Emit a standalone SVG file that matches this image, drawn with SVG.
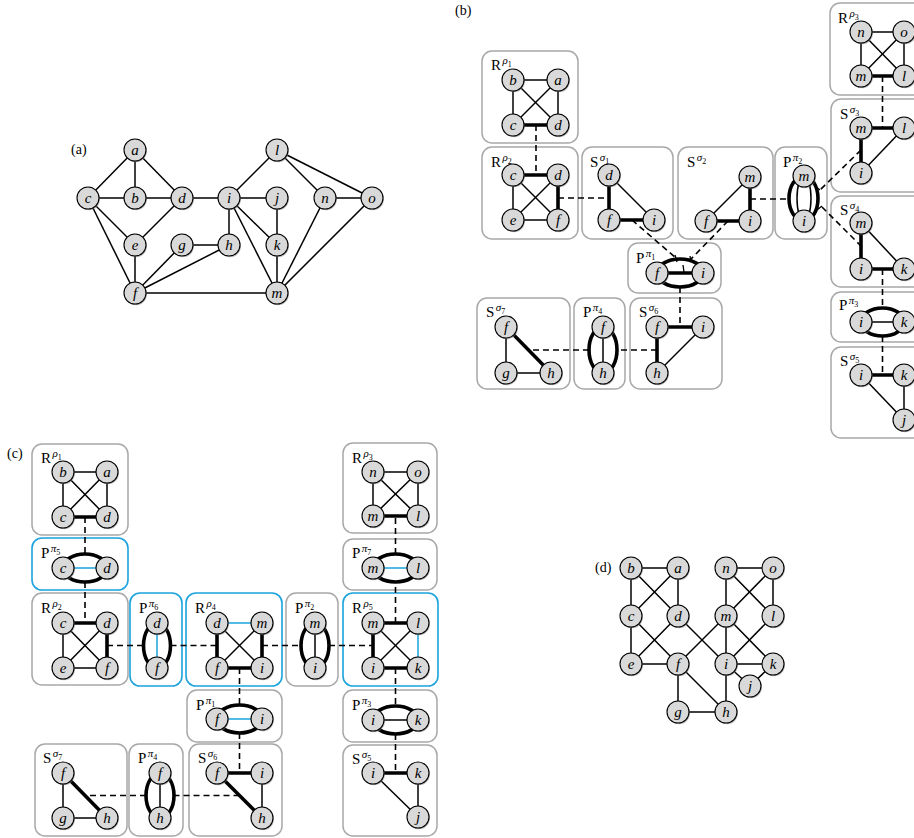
<svg xmlns="http://www.w3.org/2000/svg" xmlns:xlink="http://www.w3.org/1999/xlink" width="914" height="838" viewBox="0 0 914 838">
<style>
.e{stroke:#000;stroke-width:1.5;fill:none}
.t{stroke:#000;stroke-width:3.6;fill:none}
.bl{stroke:#1aa3dc;stroke-width:1.5;fill:none}
.dsh{stroke:#000;stroke-width:1.6;stroke-dasharray:6 4;fill:none}
.tk{stroke:#000;stroke-width:1.3}
.box{fill:#fff;stroke:#a8a8a8;stroke-width:1.5}
.bbox{fill:#fff;stroke:#1aa3dc;stroke-width:1.6}
.vl{font-family:"Liberation Serif",serif;font-style:italic;font-size:15px;text-anchor:middle}
.lab{font-family:"Liberation Serif",serif;font-size:15px}
.sup{font-style:italic;font-size:11px}
.sub{font-size:8px}
.pl{font-family:"Liberation Serif",serif;font-size:14px}
</style>
<defs>
<g id="v"><circle cx="1" cy="1.3" r="11" fill="#808080" opacity="0.55"/><circle r="11" fill="#d9d9d9" stroke="#000" stroke-width="1.1"/></g>
</defs>
<rect width="914" height="838" fill="#fff"/>

<!-- ===== (a) ===== -->
<text class="pl" x="71" y="154">(a)</text>
<g id="a-edges">
<line class="e" x1="135" y1="150" x2="88" y2="198"/>
<line class="e" x1="135" y1="150" x2="135" y2="198"/>
<line class="e" x1="135" y1="150" x2="182" y2="198"/>
<line class="e" x1="88" y1="198" x2="135" y2="198"/>
<line class="e" x1="135" y1="198" x2="182" y2="198"/>
<line class="e" x1="88" y1="198" x2="135" y2="245"/>
<line class="e" x1="88" y1="198" x2="135" y2="293"/>
<line class="e" x1="182" y1="198" x2="135" y2="245"/>
<line class="e" x1="182" y1="198" x2="229" y2="198"/>
<line class="e" x1="135" y1="245" x2="135" y2="293"/>
<line class="e" x1="182" y1="245" x2="229" y2="245"/>
<line class="e" x1="182" y1="245" x2="135" y2="293"/>
<line class="e" x1="229" y1="245" x2="135" y2="293"/>
<line class="e" x1="229" y1="198" x2="277" y2="150"/>
<line class="e" x1="229" y1="198" x2="277" y2="198"/>
<line class="e" x1="229" y1="198" x2="229" y2="245"/>
<line class="e" x1="229" y1="198" x2="277" y2="245"/>
<line class="e" x1="229" y1="198" x2="277" y2="293"/>
<line class="e" x1="277" y1="198" x2="277" y2="245"/>
<line class="e" x1="277" y1="245" x2="277" y2="293"/>
<line class="e" x1="277" y1="150" x2="325" y2="198"/>
<line class="e" x1="277" y1="150" x2="372" y2="198"/>
<line class="e" x1="325" y1="198" x2="372" y2="198"/>
<line class="e" x1="325" y1="198" x2="277" y2="293"/>
<line class="e" x1="372" y1="198" x2="277" y2="293"/>
<line class="e" x1="135" y1="293" x2="277" y2="293"/>
</g>
<g id="a-a"><use href="#v" x="135" y="150"/><text class="vl" x="135" y="154.5">a</text></g>
<g id="a-b"><use href="#v" x="135" y="198"/><text class="vl" x="135" y="202.5">b</text></g>
<g id="a-c"><use href="#v" x="88" y="198"/><text class="vl" x="88" y="202.5">c</text></g>
<g id="a-d"><use href="#v" x="182" y="198"/><text class="vl" x="182" y="202.5">d</text></g>
<g id="a-e"><use href="#v" x="135" y="245"/><text class="vl" x="135" y="249.5">e</text></g>
<g id="a-f"><use href="#v" x="135" y="293"/><text class="vl" x="135" y="297.5">f</text></g>
<g id="a-g"><use href="#v" x="182" y="245"/><text class="vl" x="182" y="249.5">g</text></g>
<g id="a-h"><use href="#v" x="229" y="245"/><text class="vl" x="229" y="249.5">h</text></g>
<g id="a-i"><use href="#v" x="229" y="198"/><text class="vl" x="229" y="202.5">i</text></g>
<g id="a-j"><use href="#v" x="277" y="198"/><text class="vl" x="277" y="202.5">j</text></g>
<g id="a-k"><use href="#v" x="277" y="245"/><text class="vl" x="277" y="249.5">k</text></g>
<g id="a-l"><use href="#v" x="277" y="150"/><text class="vl" x="277" y="154.5">l</text></g>
<g id="a-m"><use href="#v" x="277" y="293"/><text class="vl" x="277" y="297.5">m</text></g>
<g id="a-n"><use href="#v" x="325" y="198"/><text class="vl" x="325" y="202.5">n</text></g>
<g id="a-o"><use href="#v" x="372" y="198"/><text class="vl" x="372" y="202.5">o</text></g>

<!-- ===== (b) ===== -->
<text class="pl" x="455" y="15">(b)</text>
<g id="b-R1">
<rect class="box" x="482" y="51" width="96" height="92" rx="10"/>
<text class="lab" x="491" y="70">R<tspan class="sup" dx="1.5" dy="-6">ρ</tspan><tspan class="sub" dy="2.5">1</tspan></text>
<line class="e" x1="513" y1="80" x2="558" y2="80"/><line class="e" x1="513" y1="80" x2="513" y2="125"/><line class="e" x1="558" y1="80" x2="558" y2="125"/><line class="e" x1="513" y1="80" x2="558" y2="125"/><line class="e" x1="558" y1="80" x2="513" y2="125"/>
<line class="t" x1="513" y1="125" x2="558" y2="125"/>
<use href="#v" x="513" y="80"/><text class="vl" x="513" y="84.5">b</text>
<use href="#v" x="558" y="80"/><text class="vl" x="558" y="84.5">a</text>
<use href="#v" x="513" y="125"/><text class="vl" x="513" y="129.5">c</text>
<use href="#v" x="558" y="125"/><text class="vl" x="558" y="129.5">d</text>
</g>
<g id="b-R2">
<rect class="box" x="482" y="147" width="96" height="92" rx="10"/>
<text class="lab" x="491" y="167">R<tspan class="sup" dx="1.5" dy="-6">ρ</tspan><tspan class="sub" dy="2.5">2</tspan></text>
<line class="e" x1="513" y1="175" x2="513" y2="220"/><line class="e" x1="513" y1="220" x2="558" y2="220"/><line class="e" x1="513" y1="175" x2="558" y2="220"/><line class="e" x1="558" y1="175" x2="513" y2="220"/>
<line class="t" x1="513" y1="175" x2="558" y2="175"/><line class="t" x1="558" y1="175" x2="558" y2="220"/>
<use href="#v" x="513" y="175"/><text class="vl" x="513" y="179.5">c</text>
<use href="#v" x="558" y="175"/><text class="vl" x="558" y="179.5">d</text>
<use href="#v" x="513" y="220"/><text class="vl" x="513" y="224.5">e</text>
<use href="#v" x="558" y="220"/><text class="vl" x="558" y="224.5">f</text>
</g>
<g id="b-S1">
<rect class="box" x="582" y="147" width="91" height="92" rx="10"/>
<text class="lab" x="590" y="167">S<tspan class="sup" dx="1.5" dy="-6">σ</tspan><tspan class="sub" dy="2.5">1</tspan></text>
<line class="e" x1="609" y1="175" x2="654" y2="220"/>
<line class="t" x1="609" y1="175" x2="609" y2="220"/><line class="t" x1="609" y1="220" x2="654" y2="220"/>
<use href="#v" x="609" y="175"/><text class="vl" x="609" y="179.5">d</text>
<use href="#v" x="609" y="220"/><text class="vl" x="609" y="224.5">f</text>
<use href="#v" x="654" y="220"/><text class="vl" x="654" y="224.5">i</text>
</g>
<g id="b-S2">
<rect class="box" x="678" y="147" width="95" height="92" rx="10"/>
<text class="lab" x="687" y="167">S<tspan class="sup" dx="1.5" dy="-6">σ</tspan><tspan class="sub" dy="2.5">2</tspan></text>
<line class="e" x1="706" y1="221" x2="750" y2="177"/>
<line class="t" x1="706" y1="221" x2="750" y2="221"/><line class="t" x1="750" y1="177" x2="750" y2="221"/>
<use href="#v" x="750" y="177"/><text class="vl" x="750" y="181.5">m</text>
<use href="#v" x="706" y="221"/><text class="vl" x="706" y="225.5">f</text>
<use href="#v" x="750" y="221"/><text class="vl" x="750" y="225.5">i</text>
</g>
<g id="b-P2">
<rect class="box" x="775" y="147" width="52" height="92" rx="10"/>
<text class="lab" x="783" y="167">P<tspan class="sup" dx="1.5" dy="-6">π</tspan><tspan class="sub" dy="2.5">2</tspan></text>
<path class="t" d="M804,176 A15 22.5 0 0 0 804,221"/>
<path class="e" d="M804,176 A7 22.5 0 0 0 804,221"/>
<path class="e" d="M804,176 A7 22.5 0 0 1 804,221"/>
<path class="t" d="M804,176 A14 22.5 0 0 1 804,221"/>
<line class="tk" x1="815" y1="186" x2="820" y2="190"/>
<line class="tk" x1="817" y1="210" x2="822" y2="206"/>
<use href="#v" x="804" y="176"/><text class="vl" x="804" y="180.5">m</text>
<use href="#v" x="804" y="221"/><text class="vl" x="804" y="225.5">i</text>
</g>
<g id="b-R3">
<rect class="box" x="830" y="3" width="100" height="92" rx="10"/>
<text class="lab" x="838" y="23">R<tspan class="sup" dx="1.5" dy="-6">ρ</tspan><tspan class="sub" dy="2.5">3</tspan></text>
<line class="e" x1="861" y1="32" x2="904" y2="32"/><line class="e" x1="861" y1="32" x2="861" y2="76"/><line class="e" x1="904" y1="32" x2="904" y2="76"/><line class="e" x1="861" y1="32" x2="904" y2="76"/><line class="e" x1="904" y1="32" x2="861" y2="76"/>
<line class="t" x1="861" y1="76" x2="904" y2="76"/>
<use href="#v" x="861" y="32"/><text class="vl" x="861" y="36.5">n</text>
<use href="#v" x="904" y="32"/><text class="vl" x="904" y="36.5">o</text>
<use href="#v" x="861" y="76"/><text class="vl" x="861" y="80.5">m</text>
<use href="#v" x="904" y="76"/><text class="vl" x="904" y="80.5">l</text>
</g>
<g id="b-S3">
<rect class="box" x="831" y="99" width="100" height="93" rx="10"/>
<text class="lab" x="840" y="119">S<tspan class="sup" dx="1.5" dy="-6">σ</tspan><tspan class="sub" dy="2.5">3</tspan></text>
<line class="e" x1="904" y1="128" x2="861" y2="173"/>
<line class="t" x1="861" y1="128" x2="904" y2="128"/><line class="t" x1="861" y1="128" x2="861" y2="173"/>
<use href="#v" x="861" y="128"/><text class="vl" x="861" y="132.5">m</text>
<use href="#v" x="904" y="128"/><text class="vl" x="904" y="132.5">l</text>
<use href="#v" x="861" y="173"/><text class="vl" x="861" y="177.5">i</text>
</g>
<g id="b-S4">
<rect class="box" x="831" y="196" width="100" height="91" rx="10"/>
<text class="lab" x="840" y="215">S<tspan class="sup" dx="1.5" dy="-6">σ</tspan><tspan class="sub" dy="2.5">4</tspan></text>
<line class="e" x1="861" y1="223" x2="904" y2="269"/>
<line class="t" x1="861" y1="223" x2="861" y2="269"/><line class="t" x1="861" y1="269" x2="904" y2="269"/>
<use href="#v" x="861" y="223"/><text class="vl" x="861" y="227.5">m</text>
<use href="#v" x="861" y="269"/><text class="vl" x="861" y="273.5">i</text>
<use href="#v" x="904" y="269"/><text class="vl" x="904" y="273.5">k</text>
</g>
<g id="b-P3">
<rect class="box" x="831" y="292" width="100" height="50" rx="10"/>
<text class="lab" x="839" y="310">P<tspan class="sup" dx="1.5" dy="-6">π</tspan><tspan class="sub" dy="2.5">3</tspan></text>
<line class="e" x1="861" y1="322" x2="904" y2="322"/>
<ellipse class="t" cx="882.5" cy="322" rx="21.5" ry="14"/>
<use href="#v" x="861" y="322"/><text class="vl" x="861" y="326.5">i</text>
<use href="#v" x="904" y="322"/><text class="vl" x="904" y="326.5">k</text>
</g>
<g id="b-S5">
<rect class="box" x="831" y="347" width="100" height="91" rx="10"/>
<text class="lab" x="840" y="366">S<tspan class="sup" dx="1.5" dy="-6">σ</tspan><tspan class="sub" dy="2.5">5</tspan></text>
<line class="e" x1="904" y1="375" x2="904" y2="420"/><line class="e" x1="861" y1="375" x2="904" y2="420"/>
<line class="t" x1="861" y1="375" x2="904" y2="375"/>
<use href="#v" x="861" y="375"/><text class="vl" x="861" y="379.5">i</text>
<use href="#v" x="904" y="375"/><text class="vl" x="904" y="379.5">k</text>
<use href="#v" x="904" y="420"/><text class="vl" x="904" y="424.5">j</text>
</g>
<g id="b-P1">
<rect class="box" x="628" y="243" width="93" height="50" rx="10"/>
<text class="lab" x="636" y="263">P<tspan class="sup" dx="1.5" dy="-6">π</tspan><tspan class="sub" dy="2.5">1</tspan></text>
<line class="t" x1="657" y1="273" x2="703" y2="273"/>
<ellipse class="t" cx="680" cy="273" rx="23" ry="14"/>
<line class="tk" x1="675" y1="255" x2="677" y2="262"/>
<line class="tk" x1="690" y1="256" x2="691" y2="262"/>
<line class="tk" x1="683" y1="265" x2="684" y2="272"/>
<use href="#v" x="657" y="273"/><text class="vl" x="657" y="277.5">f</text>
<use href="#v" x="703" y="273"/><text class="vl" x="703" y="277.5">i</text>
</g>
<g id="b-S6">
<rect class="box" x="630" y="298" width="92" height="91" rx="10"/>
<text class="lab" x="639" y="317">S<tspan class="sup" dx="1.5" dy="-6">σ</tspan><tspan class="sub" dy="2.5">6</tspan></text>
<line class="e" x1="657" y1="373" x2="703" y2="327"/>
<line class="t" x1="657" y1="327" x2="703" y2="327"/><line class="t" x1="657" y1="327" x2="657" y2="373"/>
<use href="#v" x="657" y="327"/><text class="vl" x="657" y="331.5">f</text>
<use href="#v" x="703" y="327"/><text class="vl" x="703" y="331.5">i</text>
<use href="#v" x="657" y="373"/><text class="vl" x="657" y="377.5">h</text>
</g>
<g id="b-P4">
<rect class="box" x="574" y="298" width="51" height="91" rx="10"/>
<text class="lab" x="583" y="317">P<tspan class="sup" dx="1.5" dy="-6">π</tspan><tspan class="sub" dy="2.5">4</tspan></text>
<line class="e" x1="603" y1="327" x2="603" y2="373"/>
<ellipse class="t" cx="603" cy="350" rx="14" ry="23"/>
<use href="#v" x="603" y="327"/><text class="vl" x="603" y="331.5">f</text>
<use href="#v" x="603" y="373"/><text class="vl" x="603" y="377.5">h</text>
</g>
<g id="b-S7">
<rect class="box" x="477" y="298" width="93" height="91" rx="10"/>
<text class="lab" x="486" y="317">S<tspan class="sup" dx="1.5" dy="-6">σ</tspan><tspan class="sub" dy="2.5">7</tspan></text>
<line class="e" x1="506" y1="327" x2="506" y2="373"/><line class="e" x1="506" y1="373" x2="551" y2="373"/>
<line class="t" x1="506" y1="327" x2="551" y2="373"/>
<use href="#v" x="506" y="327"/><text class="vl" x="506" y="331.5">f</text>
<use href="#v" x="506" y="373"/><text class="vl" x="506" y="377.5">g</text>
<use href="#v" x="551" y="373"/><text class="vl" x="551" y="377.5">h</text>
</g>

<!-- ===== (c) ===== -->
<text class="pl" x="7" y="458">(c)</text>
<g id="c-R1">
<rect class="box" x="32" y="444" width="96" height="91" rx="10"/>
<text class="lab" x="41" y="463">R<tspan class="sup" dx="1.5" dy="-6">ρ</tspan><tspan class="sub" dy="2.5">1</tspan></text>
<line class="e" x1="63" y1="472" x2="107" y2="472"/><line class="e" x1="63" y1="472" x2="63" y2="517"/><line class="e" x1="107" y1="472" x2="107" y2="517"/><line class="e" x1="63" y1="472" x2="107" y2="517"/><line class="e" x1="107" y1="472" x2="63" y2="517"/>
<line class="t" x1="63" y1="517" x2="107" y2="517"/>
<use href="#v" x="63" y="472"/><text class="vl" x="63" y="476.5">b</text>
<use href="#v" x="107" y="472"/><text class="vl" x="107" y="476.5">a</text>
<use href="#v" x="63" y="517"/><text class="vl" x="63" y="521.5">c</text>
<use href="#v" x="107" y="517"/><text class="vl" x="107" y="521.5">d</text>
</g>
<g id="c-P5">
<rect class="bbox" x="32" y="538" width="96" height="52" rx="10"/>
<text class="lab" x="41" y="558">P<tspan class="sup" dx="1.5" dy="-6">π</tspan><tspan class="sub" dy="2.5">5</tspan></text>
<line class="bl" x1="63" y1="568" x2="107" y2="568"/>
<ellipse class="t" cx="85" cy="568" rx="22" ry="14"/>
<use href="#v" x="63" y="568"/><text class="vl" x="63" y="572.5">c</text>
<use href="#v" x="107" y="568"/><text class="vl" x="107" y="572.5">d</text>
</g>
<g id="c-R2">
<rect class="box" x="32" y="593" width="96" height="92" rx="10"/>
<text class="lab" x="41" y="613">R<tspan class="sup" dx="1.5" dy="-6">ρ</tspan><tspan class="sub" dy="2.5">2</tspan></text>
<line class="e" x1="63" y1="623" x2="63" y2="668"/><line class="e" x1="63" y1="668" x2="107" y2="668"/><line class="e" x1="63" y1="623" x2="107" y2="668"/><line class="e" x1="107" y1="623" x2="63" y2="668"/>
<line class="t" x1="63" y1="623" x2="107" y2="623"/><line class="t" x1="107" y1="623" x2="107" y2="668"/>
<use href="#v" x="63" y="623"/><text class="vl" x="63" y="627.5">c</text>
<use href="#v" x="107" y="623"/><text class="vl" x="107" y="627.5">d</text>
<use href="#v" x="63" y="668"/><text class="vl" x="63" y="672.5">e</text>
<use href="#v" x="107" y="668"/><text class="vl" x="107" y="672.5">f</text>
</g>
<g id="c-P6">
<rect class="bbox" x="130" y="593" width="52" height="93" rx="10"/>
<text class="lab" x="139" y="613">P<tspan class="sup" dx="1.5" dy="-6">π</tspan><tspan class="sub" dy="2.5">6</tspan></text>
<line class="bl" x1="157" y1="623" x2="157" y2="668"/>
<ellipse class="t" cx="157" cy="645.5" rx="13.5" ry="22.5"/>
<use href="#v" x="157" y="623"/><text class="vl" x="157" y="627.5">d</text>
<use href="#v" x="157" y="668"/><text class="vl" x="157" y="672.5">f</text>
</g>
<g id="c-R4">
<rect class="bbox" x="186" y="593" width="96" height="93" rx="10"/>
<text class="lab" x="195" y="613">R<tspan class="sup" dx="1.5" dy="-6">ρ</tspan><tspan class="sub" dy="2.5">4</tspan></text>
<line class="bl" x1="217" y1="623" x2="262" y2="623"/>
<line class="e" x1="217" y1="623" x2="262" y2="668"/><line class="e" x1="262" y1="623" x2="217" y2="668"/>
<line class="t" x1="217" y1="623" x2="217" y2="668"/><line class="t" x1="262" y1="623" x2="262" y2="668"/><line class="t" x1="217" y1="668" x2="262" y2="668"/>
<use href="#v" x="217" y="623"/><text class="vl" x="217" y="627.5">d</text>
<use href="#v" x="262" y="623"/><text class="vl" x="262" y="627.5">m</text>
<use href="#v" x="217" y="668"/><text class="vl" x="217" y="672.5">f</text>
<use href="#v" x="262" y="668"/><text class="vl" x="262" y="672.5">i</text>
</g>
<g id="c-P2">
<rect class="box" x="286" y="593" width="52" height="93" rx="10"/>
<text class="lab" x="295" y="613">P<tspan class="sup" dx="1.5" dy="-6">π</tspan><tspan class="sub" dy="2.5">2</tspan></text>
<line class="e" x1="315" y1="623" x2="315" y2="668"/>
<ellipse class="t" cx="315" cy="645.5" rx="14" ry="22.5"/>
<use href="#v" x="315" y="623"/><text class="vl" x="315" y="627.5">m</text>
<use href="#v" x="315" y="668"/><text class="vl" x="315" y="672.5">i</text>
</g>
<g id="c-R5">
<rect class="bbox" x="343" y="593" width="95" height="93" rx="10"/>
<text class="lab" x="352" y="613">R<tspan class="sup" dx="1.5" dy="-6">ρ</tspan><tspan class="sub" dy="2.5">5</tspan></text>
<line class="bl" x1="418" y1="623" x2="418" y2="668"/>
<line class="e" x1="373" y1="623" x2="418" y2="668"/><line class="e" x1="418" y1="623" x2="373" y2="668"/>
<line class="t" x1="373" y1="623" x2="418" y2="623"/><line class="t" x1="373" y1="623" x2="373" y2="668"/><line class="t" x1="373" y1="668" x2="418" y2="668"/>
<use href="#v" x="373" y="623"/><text class="vl" x="373" y="627.5">m</text>
<use href="#v" x="418" y="623"/><text class="vl" x="418" y="627.5">l</text>
<use href="#v" x="373" y="668"/><text class="vl" x="373" y="672.5">i</text>
<use href="#v" x="418" y="668"/><text class="vl" x="418" y="672.5">k</text>
</g>
<g id="c-R3">
<rect class="box" x="343" y="443" width="94" height="90" rx="10"/>
<text class="lab" x="352" y="463">R<tspan class="sup" dx="1.5" dy="-6">ρ</tspan><tspan class="sub" dy="2.5">3</tspan></text>
<line class="e" x1="373" y1="472" x2="418" y2="472"/><line class="e" x1="373" y1="472" x2="373" y2="516"/><line class="e" x1="418" y1="472" x2="418" y2="516"/><line class="e" x1="373" y1="472" x2="418" y2="516"/><line class="e" x1="418" y1="472" x2="373" y2="516"/>
<line class="t" x1="373" y1="516" x2="418" y2="516"/>
<use href="#v" x="373" y="472"/><text class="vl" x="373" y="476.5">n</text>
<use href="#v" x="418" y="472"/><text class="vl" x="418" y="476.5">o</text>
<use href="#v" x="373" y="516"/><text class="vl" x="373" y="520.5">m</text>
<use href="#v" x="418" y="516"/><text class="vl" x="418" y="520.5">l</text>
</g>
<g id="c-P7">
<rect class="box" x="343" y="539" width="94" height="51" rx="10"/>
<text class="lab" x="352" y="558">P<tspan class="sup" dx="1.5" dy="-6">π</tspan><tspan class="sub" dy="2.5">7</tspan></text>
<line class="bl" x1="373" y1="568" x2="418" y2="568"/>
<ellipse class="t" cx="395.5" cy="568" rx="22.5" ry="14"/>
<use href="#v" x="373" y="568"/><text class="vl" x="373" y="572.5">m</text>
<use href="#v" x="418" y="568"/><text class="vl" x="418" y="572.5">l</text>
</g>
<g id="c-P3">
<rect class="box" x="343" y="690" width="94" height="52" rx="10"/>
<text class="lab" x="352" y="710">P<tspan class="sup" dx="1.5" dy="-6">π</tspan><tspan class="sub" dy="2.5">3</tspan></text>
<line class="e" x1="373" y1="720" x2="418" y2="720"/>
<ellipse class="t" cx="395.5" cy="720" rx="22.5" ry="14"/>
<use href="#v" x="373" y="720"/><text class="vl" x="373" y="724.5">i</text>
<use href="#v" x="418" y="720"/><text class="vl" x="418" y="724.5">k</text>
</g>
<g id="c-S5">
<rect class="box" x="343" y="745" width="94" height="91" rx="10"/>
<text class="lab" x="352" y="764">S<tspan class="sup" dx="1.5" dy="-6">σ</tspan><tspan class="sub" dy="2.5">5</tspan></text>
<line class="e" x1="418" y1="773" x2="418" y2="817"/><line class="e" x1="373" y1="773" x2="418" y2="817"/>
<line class="t" x1="373" y1="773" x2="418" y2="773"/>
<use href="#v" x="373" y="773"/><text class="vl" x="373" y="777.5">i</text>
<use href="#v" x="418" y="773"/><text class="vl" x="418" y="777.5">k</text>
<use href="#v" x="418" y="817"/><text class="vl" x="418" y="821.5">j</text>
</g>
<g id="c-P1">
<rect class="box" x="187" y="690" width="95" height="52" rx="10"/>
<text class="lab" x="196" y="710">P<tspan class="sup" dx="1.5" dy="-6">π</tspan><tspan class="sub" dy="2.5">1</tspan></text>
<line class="bl" x1="217" y1="719" x2="262" y2="719"/>
<ellipse class="t" cx="239.5" cy="719" rx="22.5" ry="14"/>
<use href="#v" x="217" y="719"/><text class="vl" x="217" y="723.5">f</text>
<use href="#v" x="262" y="719"/><text class="vl" x="262" y="723.5">i</text>
</g>
<g id="c-S6">
<rect class="box" x="189" y="744" width="93" height="92" rx="10"/>
<text class="lab" x="198" y="763">S<tspan class="sup" dx="1.5" dy="-6">σ</tspan><tspan class="sub" dy="2.5">6</tspan></text>
<line class="e" x1="262" y1="773" x2="262" y2="818"/>
<line class="t" x1="217" y1="773" x2="262" y2="773"/><line class="t" x1="217" y1="773" x2="262" y2="818"/>
<use href="#v" x="217" y="773"/><text class="vl" x="217" y="777.5">f</text>
<use href="#v" x="262" y="773"/><text class="vl" x="262" y="777.5">i</text>
<use href="#v" x="262" y="818"/><text class="vl" x="262" y="822.5">h</text>
</g>
<g id="c-P4">
<rect class="box" x="129" y="744" width="54" height="92" rx="10"/>
<text class="lab" x="138" y="763">P<tspan class="sup" dx="1.5" dy="-6">π</tspan><tspan class="sub" dy="2.5">4</tspan></text>
<line class="e" x1="160" y1="773" x2="160" y2="818"/>
<ellipse class="t" cx="160" cy="795.5" rx="14" ry="22.5"/>
<use href="#v" x="160" y="773"/><text class="vl" x="160" y="777.5">f</text>
<use href="#v" x="160" y="818"/><text class="vl" x="160" y="822.5">h</text>
</g>
<g id="c-S7">
<rect class="box" x="35" y="744" width="92" height="92" rx="10"/>
<text class="lab" x="43" y="763">S<tspan class="sup" dx="1.5" dy="-6">σ</tspan><tspan class="sub" dy="2.5">7</tspan></text>
<line class="e" x1="63" y1="773" x2="63" y2="818"/><line class="e" x1="63" y1="818" x2="107" y2="818"/>
<line class="t" x1="63" y1="773" x2="107" y2="818"/>
<use href="#v" x="63" y="773"/><text class="vl" x="63" y="777.5">f</text>
<use href="#v" x="63" y="818"/><text class="vl" x="63" y="822.5">g</text>
<use href="#v" x="107" y="818"/><text class="vl" x="107" y="822.5">h</text>
</g>

<!-- connectors (b) and (c) -->
<g id="connectors">
<line class="dsh" x1="536" y1="125" x2="536" y2="175"/>
<line class="dsh" x1="558" y1="198" x2="609" y2="198"/>
<line class="dsh" x1="632" y1="220" x2="676" y2="258"/>
<line class="dsh" x1="728" y1="221" x2="691" y2="259"/>
<line class="dsh" x1="750" y1="199" x2="789" y2="199"/>
<line class="dsh" x1="861" y1="150" x2="820" y2="190"/>
<line class="dsh" x1="822" y1="207" x2="861" y2="246"/>
<line class="dsh" x1="882.5" y1="76" x2="882.5" y2="128"/>
<line class="dsh" x1="882.5" y1="269" x2="882.5" y2="308"/>
<line class="dsh" x1="882.5" y1="336" x2="882.5" y2="375"/>
<line class="dsh" x1="680" y1="287" x2="680" y2="327"/>
<line class="dsh" x1="657" y1="350" x2="617" y2="350"/>
<line class="dsh" x1="589" y1="350" x2="528.5" y2="350"/>
<line class="dsh" x1="85" y1="517" x2="85" y2="554"/>
<line class="dsh" x1="85" y1="582" x2="85" y2="623"/>
<line class="dsh" x1="107" y1="645.5" x2="143.5" y2="645.5"/>
<line class="dsh" x1="170.5" y1="645.5" x2="217" y2="645.5"/>
<line class="dsh" x1="262" y1="645.5" x2="301" y2="645.5"/>
<line class="dsh" x1="329" y1="645.5" x2="373" y2="645.5"/>
<line class="dsh" x1="395.5" y1="623" x2="395.5" y2="582"/>
<line class="dsh" x1="395.5" y1="554" x2="395.5" y2="516"/>
<line class="dsh" x1="395.5" y1="668" x2="395.5" y2="706"/>
<line class="dsh" x1="395.5" y1="734" x2="395.5" y2="773"/>
<line class="dsh" x1="239.5" y1="668" x2="239.5" y2="705"/>
<line class="dsh" x1="239.5" y1="733" x2="239.5" y2="773"/>
<line class="dsh" x1="239.5" y1="795.5" x2="174" y2="795.5"/>
<line class="dsh" x1="146" y1="795.5" x2="85" y2="795.5"/>
</g>

<!-- ===== (d) ===== -->
<text class="pl" x="595" y="572">(d)</text>
<g id="d-edges">
<line class="e" x1="631" y1="568" x2="678" y2="568"/>
<line class="e" x1="631" y1="568" x2="631" y2="616"/>
<line class="e" x1="631" y1="568" x2="678" y2="616"/>
<line class="e" x1="678" y1="568" x2="631" y2="616"/>
<line class="e" x1="678" y1="568" x2="678" y2="616"/>
<line class="e" x1="726" y1="568" x2="773" y2="568"/>
<line class="e" x1="726" y1="568" x2="726" y2="616"/>
<line class="e" x1="726" y1="568" x2="773" y2="616"/>
<line class="e" x1="773" y1="568" x2="726" y2="616"/>
<line class="e" x1="773" y1="568" x2="773" y2="616"/>
<line class="e" x1="631" y1="616" x2="631" y2="664"/>
<line class="e" x1="631" y1="616" x2="678" y2="664"/>
<line class="e" x1="678" y1="616" x2="631" y2="664"/>
<line class="e" x1="678" y1="616" x2="726" y2="664"/>
<line class="e" x1="726" y1="616" x2="678" y2="664"/>
<line class="e" x1="726" y1="616" x2="726" y2="664"/>
<line class="e" x1="726" y1="616" x2="773" y2="664"/>
<line class="e" x1="773" y1="616" x2="726" y2="664"/>
<line class="e" x1="631" y1="664" x2="678" y2="664"/>
<line class="e" x1="726" y1="664" x2="773" y2="664"/>
<line class="e" x1="726" y1="664" x2="750" y2="686"/>
<line class="e" x1="750" y1="686" x2="773" y2="664"/>
<line class="e" x1="678" y1="664" x2="678" y2="712"/>
<line class="e" x1="678" y1="664" x2="726" y2="712"/>
<line class="e" x1="678" y1="712" x2="726" y2="712"/>
<line class="e" x1="726" y1="664" x2="726" y2="712"/>
</g>
<g id="d-b"><use href="#v" x="631" y="568"/><text class="vl" x="631" y="572.5">b</text></g>
<g id="d-a"><use href="#v" x="678" y="568"/><text class="vl" x="678" y="572.5">a</text></g>
<g id="d-n"><use href="#v" x="726" y="568"/><text class="vl" x="726" y="572.5">n</text></g>
<g id="d-o"><use href="#v" x="773" y="568"/><text class="vl" x="773" y="572.5">o</text></g>
<g id="d-c"><use href="#v" x="631" y="616"/><text class="vl" x="631" y="620.5">c</text></g>
<g id="d-d"><use href="#v" x="678" y="616"/><text class="vl" x="678" y="620.5">d</text></g>
<g id="d-m"><use href="#v" x="726" y="616"/><text class="vl" x="726" y="620.5">m</text></g>
<g id="d-l"><use href="#v" x="773" y="616"/><text class="vl" x="773" y="620.5">l</text></g>
<g id="d-e"><use href="#v" x="631" y="664"/><text class="vl" x="631" y="668.5">e</text></g>
<g id="d-f"><use href="#v" x="678" y="664"/><text class="vl" x="678" y="668.5">f</text></g>
<g id="d-i"><use href="#v" x="726" y="664"/><text class="vl" x="726" y="668.5">i</text></g>
<g id="d-k"><use href="#v" x="773" y="664"/><text class="vl" x="773" y="668.5">k</text></g>
<g id="d-j"><use href="#v" x="750" y="686"/><text class="vl" x="750" y="690.5">j</text></g>
<g id="d-g"><use href="#v" x="678" y="712"/><text class="vl" x="678" y="716.5">g</text></g>
<g id="d-h"><use href="#v" x="726" y="712"/><text class="vl" x="726" y="716.5">h</text></g>
</svg>
